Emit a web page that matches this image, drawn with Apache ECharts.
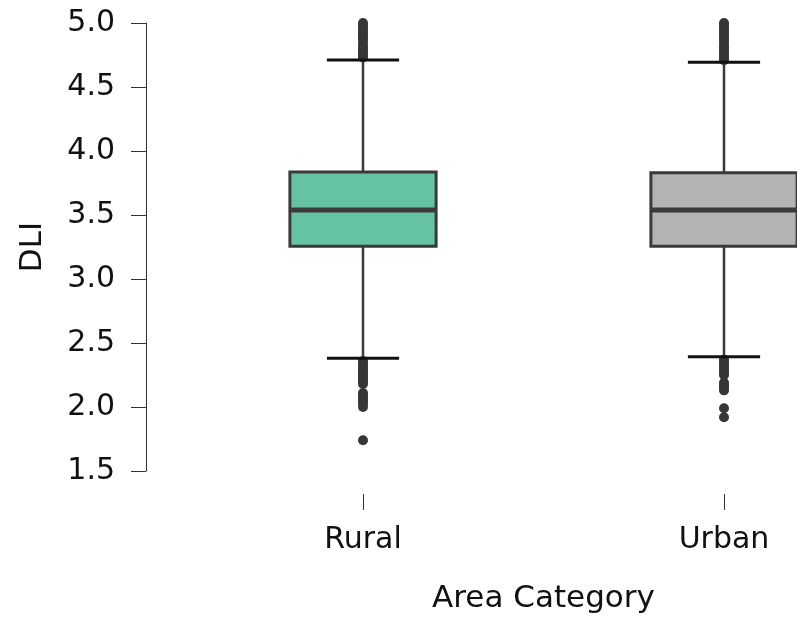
<!DOCTYPE html>
<html><head><meta charset="utf-8">
<script src="https://cdn.jsdelivr.net/npm/echarts@6/dist/echarts.min.js"></script>
<style>html,body{margin:0;padding:0;background:#fff}#c{width:797px;height:618px}</style>
</head><body><div id="c"></div>
<script>
const categories = ['Rural', 'Urban'];
const boxColors = ['#66c2a5', '#b3b3b3'];
const lowerWhisker = [2.380, 2.393];
const q1 = [3.255, 3.255];
const median = [3.540, 3.540];
const q3 = [3.835, 3.830];
const upperWhisker = [4.711, 4.693];
const ruralOutliers = [4.73, 4.75, 4.77, 4.79, 4.81, 4.83, 4.86, 4.88, 4.90, 4.92, 4.94, 4.96, 4.98, 5.00,
  2.36, 2.34, 2.32, 2.30, 2.28, 2.26, 2.24, 2.22, 2.20, 2.18, 2.11, 2.09, 2.07, 2.05, 2.03, 2.00, 1.74];
const urbanOutliers = [4.71, 4.73, 4.75, 4.77, 4.79, 4.81, 4.83, 4.86, 4.88, 4.90, 4.92, 4.94, 4.96, 4.98, 5.00,
  2.37, 2.35, 2.33, 2.31, 2.29, 2.27, 2.25, 2.19, 2.17, 2.15, 2.13, 1.99, 1.92];
const yMin = 1.5, yMax = 5.0, yStep = 0.5;

const font = 'DejaVu Sans';
const textColor = '#111';
const boxData = categories.map((c, i) => [i, lowerWhisker[i], q1[i], median[i], q3[i], upperWhisker[i]]);
const outlierData = [];
ruralOutliers.forEach(v => outlierData.push([0, v]));
urbanOutliers.forEach(v => outlierData.push([1, v]));

const chart = echarts.init(document.getElementById('c'), null, {renderer: 'canvas'});
chart.setOption({
  animation: false,
  backgroundColor: '#fff',
  grid: {left: 182.5, width: 722, top: 23, height: 448, containLabel: false, outerBoundsMode: 'none'},
  xAxis: {
    type: 'category', data: categories, offset: 23,
    axisLine: {show: false},
    axisTick: {show: true, alignWithLabel: true, length: 16, lineStyle: {color: '#333', width: 1}},
    axisLabel: {fontSize: 30, fontFamily: font, color: textColor, margin: 31},
    splitLine: {show: false},
    name: 'Area Category', nameLocation: 'middle', nameGap: 89,
    nameTextStyle: {fontSize: 31, fontFamily: font, color: textColor}
  },
  yAxis: {
    type: 'value', min: yMin, max: yMax, interval: yStep, offset: 36.5,
    axisLine: {show: true, lineStyle: {color: '#333', width: 1}},
    axisTick: {show: true, length: 15, lineStyle: {color: '#333', width: 1}},
    axisLabel: {fontSize: 30, fontFamily: font, color: textColor, margin: 31, formatter: v => v.toFixed(1)},
    splitLine: {show: false},
    name: 'DLI', nameLocation: 'middle', nameGap: 98,
    nameTextStyle: {fontSize: 31, fontFamily: font, color: textColor}
  },
  series: [
    {
      type: 'scatter', data: outlierData, symbolSize: 10, z: 2, clip: false,
      itemStyle: {color: '#363636', opacity: 1}
    },
    {
      type: 'custom', data: boxData, z: 3, clip: false,
      encode: {x: 0, y: [1, 2, 3, 4, 5]},
      renderItem: function (params, api) {
        const idx = api.value(0);
        const band = api.size([1, 0])[0];
        const bw = band * 0.405;
        const cw = band * 0.2;
        const pLow = api.coord([idx, api.value(1)]);
        const pQ1 = api.coord([idx, api.value(2)]);
        const pMed = api.coord([idx, api.value(3)]);
        const pQ3 = api.coord([idx, api.value(4)]);
        const pHigh = api.coord([idx, api.value(5)]);
        const x = pQ1[0];
        const dark = '#3a3a3a';
        return {
          type: 'group',
          children: [
            {type: 'line', shape: {x1: x, y1: pHigh[1], x2: x, y2: pQ3[1]}, style: {stroke: dark, lineWidth: 2.5}},
            {type: 'line', shape: {x1: x, y1: pQ1[1], x2: x, y2: pLow[1]}, style: {stroke: dark, lineWidth: 2.5}},
            {type: 'line', shape: {x1: x - cw / 2, y1: pHigh[1], x2: x + cw / 2, y2: pHigh[1]}, style: {stroke: '#111', lineWidth: 3}},
            {type: 'line', shape: {x1: x - cw / 2, y1: pLow[1], x2: x + cw / 2, y2: pLow[1]}, style: {stroke: '#111', lineWidth: 3}},
            {type: 'rect', shape: {x: x - bw / 2, y: pQ3[1], width: bw, height: pQ1[1] - pQ3[1]},
              style: {fill: boxColors[idx], stroke: dark, lineWidth: 3}},
            {type: 'line', shape: {x1: x - bw / 2, y1: pMed[1], x2: x + bw / 2, y2: pMed[1]}, style: {stroke: dark, lineWidth: 5}}
          ]
        };
      }
    }
  ]
});
</script>
</body></html>
